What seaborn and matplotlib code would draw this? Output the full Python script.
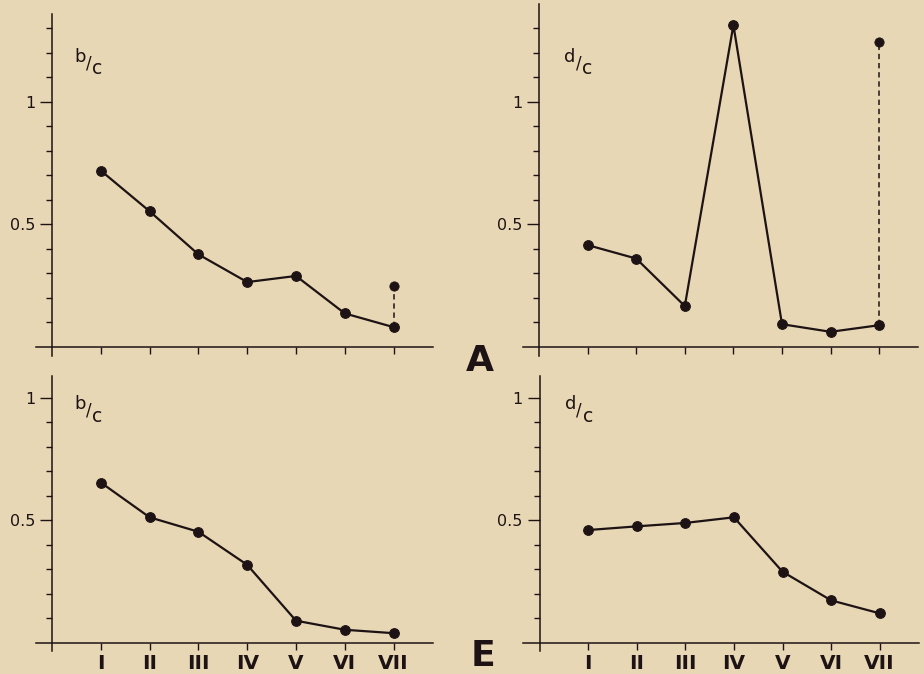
import seaborn as sns
import matplotlib.pyplot as plt

# stages along the x axis
stages = ["I", "II", "III", "IV", "V", "VI", "VII"]
stage_pos = [1, 2, 3, 4, 5, 6, 7]

# ratios (A = upper row, E = lower row)
a_bc = [0.72, 0.554, 0.378, 0.265, 0.29, 0.137, 0.081]
a_bc_extra = 0.248
a_dc = [0.416, 0.361, 0.167, 1.314, 0.093, 0.062, 0.089]
a_dc_extra = 1.246
e_bc = [0.653, 0.511, 0.452, 0.317, 0.089, 0.052, 0.038]
e_dc = [0.459, 0.474, 0.488, 0.511, 0.289, 0.172, 0.119]

W, H = 924, 674
BG = "#e8d7b5"
INK = "#1e1314"

sns.set_style("ticks", rc={"axes.facecolor": BG, "figure.facecolor": BG,
                           "axes.edgecolor": INK, "xtick.color": INK,
                           "ytick.color": INK, "text.color": INK})
plt.rcParams["font.family"] = ["DejaVu Sans"]


def place(fig, x0, y0, ytop, xu=48.8, yu=245.0, xlim=(-0.33, 7.8), ybot=-0.035):
    # x0, y0 = pixel position of the data origin
    left = (x0 + xlim[0] * xu) / W
    width = (xlim[1] - xlim[0]) * xu / W
    bottom = 1 - (y0 - ybot * yu) / H
    height = (ytop - ybot) * yu / H
    ax = fig.add_axes([left, bottom, width, height])
    ax.set_xlim(*xlim)
    ax.set_ylim(ybot, ytop)
    return ax


def style(ax, ytop, show_x):
    for s in ["top", "right"]:
        ax.spines[s].set_visible(False)
    ax.spines["left"].set_position(("data", 0))
    ax.spines["bottom"].set_position(("data", 0))
    ax.spines["left"].set_linewidth(1.1)
    ax.spines["bottom"].set_linewidth(1.1)
    ax.set_yticks([0.5, 1])
    ax.set_yticklabels(["0.5", "1"], fontsize=11.5)
    minors = [i / 10 for i in range(1, int(ytop * 10) + 1) if i not in (5, 10)]
    ax.set_yticks(minors, minor=True)
    ax.tick_params(axis="y", which="major", length=9, width=1, pad=3)
    ax.tick_params(axis="y", which="minor", length=4, width=1)
    ax.set_xticks(stage_pos)
    if show_x:
        ax.set_xticklabels(stages, fontsize=14.5, fontweight="bold")
    else:
        ax.set_xticklabels([])
    ax.tick_params(axis="x", length=5, width=1, pad=3)
    ax.set_xlabel("")
    ax.set_ylabel("")


def series(ax, vals, extra=None):
    sns.lineplot(x=stage_pos, y=vals, ax=ax, color=INK, marker="o",
                 markersize=7, markeredgecolor=INK, linewidth=1.6)
    if extra is not None:
        sns.lineplot(x=[stage_pos[-1], stage_pos[-1]], y=[vals[-1], extra], ax=ax,
                     estimator=None, sort=False, color=INK, linewidth=1.1,
                     linestyle=(0, (3.5, 2.5)))
        sns.scatterplot(x=[stage_pos[-1]], y=[extra], ax=ax, color=INK, s=45,
                        edgecolor=INK, zorder=5)


def label(ax, top, x, y):
    # small ratio like "b/c": numerator, slash, lowered "c", side by side
    kw = dict(xycoords="data", textcoords="offset points", va="baseline", ha="left")
    ax.annotate(top, xy=(x, y), xytext=(0, 0), fontsize=13, **kw)
    ax.annotate("/", xy=(x, y), xytext=(8.4, -5), fontsize=12, **kw)
    ax.annotate("c", xy=(x, y), xytext=(12.8, -9), fontsize=13.5, **kw)


fig = plt.figure(figsize=(W / 100, H / 100), dpi=100)

ax1 = place(fig, 52, 347, 1.36)
series(ax1, a_bc, a_bc_extra)
style(ax1, 1.36, False)
label(ax1, "b", 0.45, 1.165)

ax2 = place(fig, 539, 347, 1.40, xu=48.6)
series(ax2, a_dc, a_dc_extra)
style(ax2, 1.36, False)
label(ax2, "d", 0.52, 1.165)

ax3 = place(fig, 52, 642.5, 1.086)
series(ax3, e_bc)
style(ax3, 1.0, True)
label(ax3, "b", 0.45, 0.953)

ax4 = place(fig, 539.5, 642.5, 1.086, xu=48.6)
series(ax4, e_dc)
style(ax4, 1.0, True)
label(ax4, "d", 0.52, 0.953)

fig.text(480 / W, 1 - 361 / H, "A", ha="center", va="center", fontsize=26,
         fontweight="bold")
fig.text(483 / W, 1 - 656 / H, "E", ha="center", va="center", fontsize=26,
         fontweight="bold")

fig.savefig("out.png", dpi=100, facecolor=BG)
